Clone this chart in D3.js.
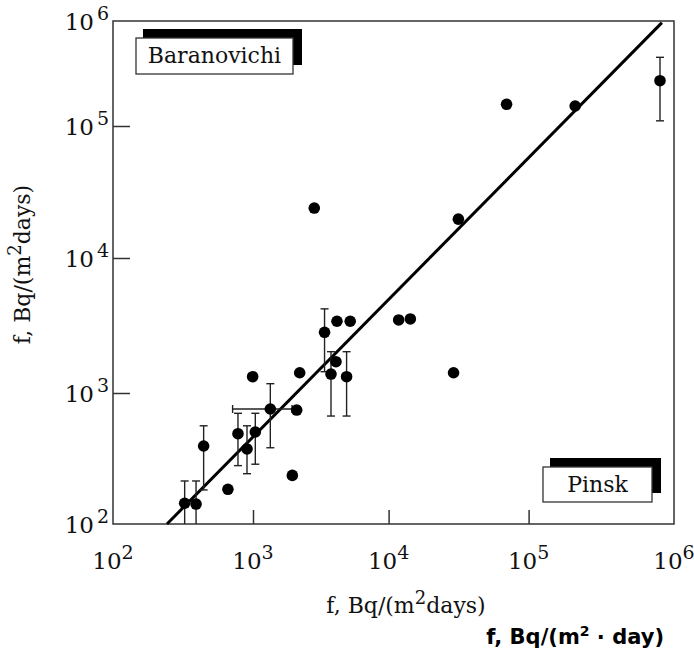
<!DOCTYPE html>
<html>
<head>
<meta charset="utf-8">
<script src="https://cdn.jsdelivr.net/npm/d3@7"></script>
<style>
  body { margin: 0; background: #fff; }
  svg { display: block; }
  .tick-label, .axis-title, .box-label { font-family: "DejaVu Serif", serif; fill: #111; }
  .unit-note { font-family: "DejaVu Sans", sans-serif; font-weight: bold; fill: #000; }
</style>
</head>
<body>
<svg id="chart"></svg>
<script>
// measured deposition vs. modelled deposition, Bq/(m2 day)
const xVals = [325, 392, 444, 662, 781, 906, 1040, 994, 1342, 1950, 2100, 2210, 2830,
  3370, 3760, 4090, 4160, 4900, 5210, 11800, 14300, 29100, 31500, 69600, 209000, 801000];
const yVals = [144, 142, 394, 184, 489, 374, 504, 1320, 755, 235, 741, 1413, 23900,
  2816, 1382, 1706, 3400, 1320, 3400, 3475, 3535, 1413, 19700, 161000, 155000, 270000];
// vertical error bars (null = none)
const yLow = [100, 100, 182, null, 279, 242, 286, null, 382, null, null, null, null,
  1438, 667, null, null, 667, null, null, null, null, null, null, null, 112000];
const yHigh = [213, 213, 562, null, 700, 562, 700, null, 1172, null, null, null, null,
  4200, 2023, null, null, 2023, null, null, null, null, null, null, null, 451000];
// one horizontal error bar
const xErrIndex = [8];
const xErrLow = [715];
const xErrHigh = [1940];

// fitted line end points
const fitX = [243, 826000];
const fitY = [100, 964000];

const decades = [1e2, 1e3, 1e4, 1e5, 1e6];
const tickExp = ['2', '3', '4', '5', '6'];
const boxLabels = ['Baranovichi', 'Pinsk'];

class LogScatter {

  constructor(_config, _data) {
    this.config = {
      parentElement: _config.parentElement,
      containerWidth: _config.containerWidth || 694,
      containerHeight: _config.containerHeight || 656,
      margin: { top: 21, bottom: 132, right: 20, left: 113 }
    }
    this.data = _data;
    this.initVis();
  }

  initVis() {
    let vis = this;

    vis.width = vis.config.containerWidth - vis.config.margin.left - vis.config.margin.right;
    vis.height = vis.config.containerHeight - vis.config.margin.top - vis.config.margin.bottom;

    // the original axes are not evenly spaced per decade, so the log scales are piecewise
    vis.xScale = d3.scaleLog()
        .domain(decades)
        .range([0, 140, 275.6, 415.6, vis.width]);

    vis.yScale = d3.scaleLog()
        .domain(decades)
        .range([vis.height, vis.height - 131, vis.height - 266, vis.height - 398, 0]);

    vis.xAxis = d3.axisBottom(vis.xScale)
        .tickValues(decades.slice(1, 4))
        .tickSize(-14)
        .tickSizeOuter(0)
        .tickFormat('');

    vis.yAxis = d3.axisLeft(vis.yScale)
        .tickValues(decades.slice(1, 4))
        .tickSize(-17)
        .tickSizeOuter(0)
        .tickFormat('');

    vis.svg = d3.select(vis.config.parentElement)
        .attr('width', vis.config.containerWidth)
        .attr('height', vis.config.containerHeight);

    vis.chart = vis.svg.append('g')
        .attr('transform', `translate(${vis.config.margin.left},${vis.config.margin.top})`);

    vis.chart.append('rect')
        .attr('width', vis.width)
        .attr('height', vis.height)
        .attr('fill', 'none')
        .attr('stroke', '#333')
        .attr('stroke-width', 1.5);

    vis.xAxisG = vis.chart.append('g')
        .attr('class', 'axis x-axis')
        .attr('transform', `translate(0,${vis.height})`);

    vis.yAxisG = vis.chart.append('g')
        .attr('class', 'axis y-axis');

    this.updateVis();
  }

  updateVis() {
    let vis = this;

    vis.xValue = d => d.x;
    vis.yValue = d => d.y;

    vis.line = d3.line()
        .x(d => vis.xScale(d[0]))
        .y(d => vis.yScale(d[1]));

    this.renderVis();
  }

  renderVis() {
    let vis = this;

    vis.xAxisG.call(vis.xAxis);
    vis.yAxisG.call(vis.yAxis);
    vis.chart.selectAll('.axis .domain').remove();
    vis.chart.selectAll('.axis .tick line')
        .attr('stroke', '#333')
        .attr('stroke-width', 1.5);

    // x tick labels 10^n
    let xl = vis.chart.selectAll('.x-label')
        .data(decades)
      .join('text')
        .attr('class', 'tick-label x-label')
        .attr('x', d => vis.xScale(d))
        .attr('y', vis.height + 45)
        .attr('text-anchor', 'middle')
        .attr('font-size', 23);
    xl.append('tspan').text('10');
    xl.append('tspan').attr('dy', -10).attr('font-size', 19).text((d, i) => tickExp[i]);

    // y tick labels 10^n
    let yl = vis.chart.selectAll('.y-label')
        .data(decades)
      .join('text')
        .attr('class', 'tick-label y-label')
        .attr('x', -4)
        .attr('y', d => vis.yScale(d) + 9)
        .attr('text-anchor', 'end')
        .attr('font-size', 23);
    yl.append('tspan').text('10');
    yl.append('tspan').attr('dx', 3).attr('dy', -10).attr('font-size', 19).text((d, i) => tickExp[i]);

    // axis titles
    let xt = vis.chart.append('text')
        .attr('class', 'axis-title')
        .attr('x', 293)
        .attr('y', vis.height + 89)
        .attr('text-anchor', 'middle')
        .attr('font-size', 22);
    xt.append('tspan').text('f, Bq/(m');
    xt.append('tspan').attr('dy', -9).attr('font-size', 18).text('2');
    xt.append('tspan').attr('dy', 9).text('days)');

    let yt = vis.chart.append('text')
        .attr('class', 'axis-title')
        .attr('transform', `translate(-83,${vis.height / 2 - 8}) rotate(-90)`)
        .attr('text-anchor', 'middle')
        .attr('font-size', 22);
    yt.append('tspan').text('f, Bq/(m');
    yt.append('tspan').attr('dy', -9).attr('font-size', 18).text('2');
    yt.append('tspan').attr('dy', 9).text('days)');

    // fitted line
    vis.chart.append('path')
        .datum(d3.zip(fitX, fitY))
        .attr('class', 'chart-line')
        .attr('fill', 'none')
        .attr('stroke', '#000')
        .attr('stroke-width', 3)
        .attr('d', vis.line);

    // error bars
    let eb = vis.data.filter(d => d.lo != null);
    let cap = 4;
    let errG = vis.chart.append('g')
        .attr('stroke', '#222')
        .attr('stroke-width', 1.4);
    errG.selectAll('.err-v')
        .data(eb)
      .join('line')
        .attr('x1', d => vis.xScale(d.x))
        .attr('x2', d => vis.xScale(d.x))
        .attr('y1', d => vis.yScale(d.lo))
        .attr('y2', d => vis.yScale(d.hi));
    errG.selectAll('.cap-hi')
        .data(eb)
      .join('line')
        .attr('x1', d => vis.xScale(d.x) - cap)
        .attr('x2', d => vis.xScale(d.x) + cap)
        .attr('y1', d => vis.yScale(d.hi))
        .attr('y2', d => vis.yScale(d.hi));
    errG.selectAll('.cap-lo')
        .data(eb.filter(d => d.lo > 100))
      .join('line')
        .attr('x1', d => vis.xScale(d.x) - cap)
        .attr('x2', d => vis.xScale(d.x) + cap)
        .attr('y1', d => vis.yScale(d.lo))
        .attr('y2', d => vis.yScale(d.lo));

    // horizontal error bar
    let hb = xErrIndex.map((k, i) => ({ y: vis.data[k].y, lo: xErrLow[i], hi: xErrHigh[i] }));
    errG.selectAll('.err-h')
        .data(hb)
      .join('line')
        .attr('x1', d => vis.xScale(d.lo))
        .attr('x2', d => vis.xScale(d.hi))
        .attr('y1', d => vis.yScale(d.y))
        .attr('y2', d => vis.yScale(d.y));
    errG.selectAll('.cap-h')
        .data(hb.flatMap(d => [{ x: d.lo, y: d.y }, { x: d.hi, y: d.y }]))
      .join('line')
        .attr('x1', d => vis.xScale(d.x))
        .attr('x2', d => vis.xScale(d.x))
        .attr('y1', d => vis.yScale(d.y) - cap)
        .attr('y2', d => vis.yScale(d.y) + cap);

    // points
    vis.chart.selectAll('.point')
        .data(vis.data)
      .join('circle')
        .attr('class', 'point')
        .attr('cx', d => vis.xScale(vis.xValue(d)))
        .attr('cy', d => vis.yScale(vis.yValue(d)))
        .attr('r', 5.8)
        .attr('fill', '#000');

    // station labels with shadow boxes
    let boxes = [
      { text: boxLabels[0], x: 23, y: 17, w: 157, h: 36 },
      { text: boxLabels[1], x: 430, y: 446, w: 109, h: 35 }
    ];
    boxes.forEach(b => {
      vis.chart.append('rect')
          .attr('x', b.x + 7).attr('y', b.y - 9)
          .attr('width', b.w + 2).attr('height', b.h)
          .attr('fill', '#000');
      vis.chart.append('rect')
          .attr('x', b.x).attr('y', b.y)
          .attr('width', b.w).attr('height', b.h)
          .attr('fill', '#fff')
          .attr('stroke', '#333')
          .attr('stroke-width', 1.3);
      vis.chart.append('text')
          .attr('class', 'box-label')
          .attr('x', b.x + b.w / 2)
          .attr('y', b.y + b.h / 2 + 7)
          .attr('text-anchor', 'middle')
          .attr('font-size', 22)
          .text(b.text);
    });

    // unit note under the chart
    let un = vis.svg.append('text')
        .attr('class', 'unit-note')
        .attr('x', 664)
        .attr('y', 644)
        .attr('text-anchor', 'end')
        .attr('font-size', 21);
    un.append('tspan').text('f, Bq/(m');
    un.append('tspan').attr('dy', -8).attr('font-size', 14).text('2');
    un.append('tspan').attr('dy', 8).text(' \u00b7 day)');
  }
}

const data = xVals.map((x, i) => ({ x: x, y: yVals[i], lo: yLow[i], hi: yHigh[i] }));
const chart = new LogScatter({ parentElement: '#chart' }, data);
</script>
</body>
</html>
